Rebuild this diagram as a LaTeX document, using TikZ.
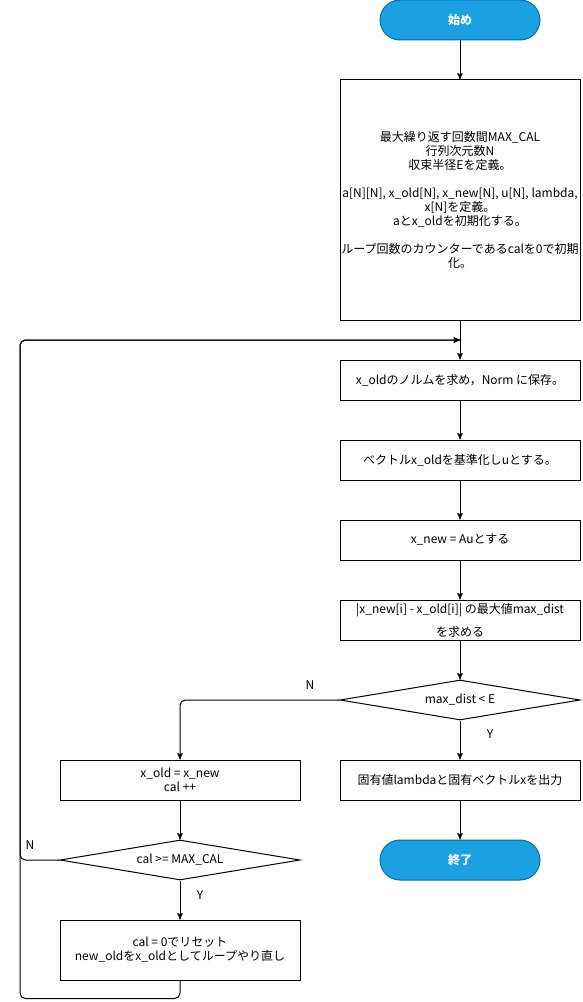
\documentclass[tikz,border=0pt]{standalone}
\usepackage{fontspec}
\setmainfont{Noto Sans CJK JP}
\usetikzlibrary{arrows}
\usetikzlibrary{shapes.geometric}
\definecolor{termfill}{HTML}{1BA1E2}
\definecolor{termline}{HTML}{006EAF}
\begin{document}
\begin{tikzpicture}[x=.75pt, y=-.75pt, line width=.75pt,
 every node/.style={font=\fontsize{9}{10.5}\selectfont, align=center},
 proc/.style={draw, minimum width=180pt, minimum height=30pt, inner sep=0},
 term/.style={draw=termline, fill=termfill, text=white, rounded corners=15pt, minimum width=120pt, minimum height=30pt, inner sep=0, font=\fontsize{9}{10.5}\selectfont\bfseries},
 decide/.style={draw, diamond, aspect=6, minimum width=180pt, minimum height=30pt, inner sep=0},
 flow/.style={->, >=stealth', rounded corners=4pt}]
\useasboundingbox (0,0) rectangle (582,1002);
\node[term] (start) at (460,20) {始め};
\node[proc, minimum height=180pt] (init) at (460,200) {最大繰り返す回数間MAX\_CAL\\行列次元数N\\収束半径Eを定義。\\[10.5pt]a[N][N], x\_old[N], x\_new[N], u[N], lambda,\\x[N]を定義。\\aとx\_oldを初期化する。\\[10.5pt]ループ回数のカウンターであるcalを0で初期\\化。};
\node[proc] (norm) at (460,380) {x\_oldのノルムを求め，Norm に保存。};
\node[proc] (unit) at (460,460) {ベクトルx\_oldを基準化しuとする。};
\node[proc] (anew) at (460,540) {x\_new = Auとする};
\node[proc] (dist) at (460,620) {|x\_new[i] - x\_old[i]| の最大値max\_dist\\[6.75pt]を求める};
\node[decide] (check) at (460,700) {max\_dist < E};
\node[proc] (result) at (460,780) {固有値lambdaと固有ベクトルxを出力};
\node[term] (stop) at (460,860) {終了};
\node[proc] (update) at (180,780) {x\_old = x\_new\\cal ++};
\node[decide] (limit) at (180,860) {cal >= MAX\_CAL};
\node[proc, minimum height=45pt] (reset) at (180,950) {cal = 0でリセット\\new\_oldをx\_oldとしてループやり直し};
\node (yes1) at (490,734) {Y};
\node (no1) at (310,685) {N};
\node (no2) at (30,845) {N};
\node (yes2) at (200,895) {Y};
\coordinate (loopin) at (460,340);
\coordinate (loopleft) at (20,340);
\draw[flow] (start) -- (init);
\draw[flow] (init) -- (norm);
\draw[flow] (norm) -- (unit);
\draw[flow] (unit) -- (anew);
\draw[flow] (anew) -- (dist);
\draw[flow] (dist) -- (check);
\draw[flow] (check) -- (result);
\draw[flow] (result) -- (stop);
\draw[flow] (check.west) -| (update);
\draw[flow] (update) -- (limit);
\draw[flow] (limit) -- (reset);
\draw[flow] (limit.west) -| (loopleft) -- (loopin);
\draw[flow] (reset.south) -- ++(0,18) -| (loopleft) -- (loopin);
\end{tikzpicture}
\end{document}
